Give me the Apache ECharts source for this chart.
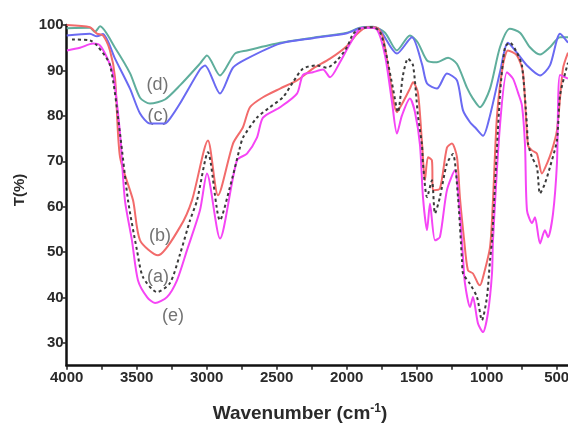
<!DOCTYPE html>
<html>
<head>
<meta charset="utf-8">
<script src="https://cdn.jsdelivr.net/npm/echarts@6/dist/echarts.min.js"></script>
<style>
html,body{margin:0;padding:0;background:#fff;}
#chart{width:568px;height:433px;}
</style>
</head>
<body>
<div id="chart"></div>
<script>
// Sample (a) - black dotted
const seriesA = [[3962,96.8],[3834,96.6],[3784,95.5],[3691,91.2],[3619,76],[3562,61.4],[3498,50.4],[3455,44.5],[3355,41.2],[3262,43.2],[3191,49.5],[3119,57],[3069,61.4],[2991,72],[2905,57],[2834,64.3],[2762,73.1],[2741,75.2],[2641,79.6],[2548,81.9],[2455,84.1],[2384,87.4],[2312,90.4],[2212,91.1],[2141,90.6],[2069,92.2],[1998,95.1],[1955,98],[1905,99.2],[1812,99.5],[1762,98.5],[1726,94.8],[1669,86],[1634,80.8],[1598,88.9],[1562,92.6],[1526,91.1],[1491,80.1],[1462,73.5],[1455,69.5],[1426,62.1],[1391,65.8],[1369,58.5],[1334,62.1],[1284,69.5],[1241,71.6],[1205,62.1],[1176,48.2],[1169,45.3],[1119,43],[1069,40.1],[1034,35],[998,40.1],[976,48.2],[962,52.6],[905,84.5],[869,95.1],[834,96.1],[784,93.9],[748,91.1],[712,77.9],[705,74],[676,70.9],[641,68.7],[619,62.9],[584,65.1],[548,68.7],[498,74.6],[476,84.5],[419,91.7]];
// Sample (b) - red
const seriesB = [[4000,100],[3834,99.5],[3784,98.1],[3741,97.7],[3691,94.4],[3655,88.5],[3619,70.9],[3526,61.4],[3476,52.6],[3348,49.3],[3191,55.5],[3105,61.4],[2991,74.6],[2919,62.5],[2812,73.9],[2741,77.5],[2691,81.9],[2598,84.1],[2476,86],[2355,87.8],[2241,90.4],[2119,92.6],[1998,95.4],[1926,98],[1855,99.5],[1784,99.4],[1741,97.3],[1705,91.1],[1641,80.8],[1598,83],[1548,86],[1526,87.4],[1491,85.1],[1462,74.1],[1441,65.8],[1419,70.9],[1391,70.2],[1384,63.6],[1334,64],[1284,73],[1248,73.9],[1212,70.9],[1191,62],[1162,53],[1134,46],[1098,45.3],[1062,43.1],[1048,42.7],[1026,44.5],[976,51.1],[955,61.4],[926,80.1],[884,91.1],[848,94.4],[784,93.3],[741,89.6],[705,73.5],[676,72.4],[641,71.7],[605,67.3],[569,69.5],[534,72.4],[498,76.8],[455,90.4],[419,93.9]];
// Sample (c) - blue
const seriesC = [[4000,97.7],[3834,98.1],[3784,97.5],[3741,98],[3655,92.6],[3548,86],[3476,80.5],[3405,78.3],[3298,78.3],[3262,79.4],[3191,82.7],[3048,90.2],[3012,91.1],[2905,84.9],[2812,90.6],[2712,92.6],[2476,95.9],[2241,97.1],[1998,98.2],[1905,99.3],[1812,99.5],[1762,98.9],[1641,93.7],[1534,97.3],[1462,91.4],[1426,87.1],[1355,86],[1284,89.3],[1212,87.8],[1169,81.2],[1119,78.6],[1084,77.5],[1026,75.6],[976,80.1],[905,89.6],[848,96.1],[784,93.9],[712,91.1],[619,88.9],[548,91.1],[476,98.1],[419,96.1]];
// Sample (d) - teal
const seriesD = [[4000,99.3],[3834,99.4],[3798,98.5],[3762,99.7],[3655,95],[3548,89.4],[3476,84],[3405,82.7],[3298,83.6],[3191,86.7],[3048,91.5],[2998,93.3],[2905,88.9],[2798,93.7],[2712,94.4],[2476,96.1],[2241,97.2],[1998,98.3],[1905,99.4],[1812,99.6],[1726,98.3],[1641,94.4],[1548,97.7],[1491,96.1],[1426,92.2],[1355,91.8],[1276,92.8],[1212,91.4],[1141,86.2],[1098,83.8],[1048,81.9],[976,86],[905,95.1],[834,99.2],[762,98.3],[691,95.1],[619,93.5],[548,95.1],[476,97.3],[419,97.3]];
// Sample (e) - magenta
const seriesE = [[3998,94.4],[3905,95],[3812,95.9],[3762,95.5],[3712,92.8],[3669,89.3],[3619,76.1],[3584,61.4],[3534,52.6],[3491,43.8],[3426,40.1],[3369,38.8],[3284,40.1],[3212,43.8],[3141,50.4],[3048,59.2],[2998,67.3],[2905,53],[2784,70.2],[2712,71.7],[2641,75.2],[2598,79.6],[2476,81.9],[2355,84.9],[2312,89],[2241,89.6],[2169,90.2],[2119,88.5],[2048,91.8],[1976,95.9],[1905,99.2],[1855,99.4],[1784,99],[1726,93.3],[1676,83],[1641,76.1],[1605,80.1],[1548,83.8],[1512,80.8],[1476,73.5],[1455,62.1],[1426,54.8],[1405,60.7],[1369,52.6],[1334,53.3],[1284,63.6],[1227,68],[1191,58.5],[1169,48.9],[1155,43.1],[1119,37.9],[1098,40.1],[1062,34.3],[1026,32.4],[991,36.6],[962,45.3],[955,52.6],[905,77.9],[855,89.6],[812,88.2],[776,85.1],[748,82.3],[726,73.5],[712,59.2],[676,56.4],[655,57.7],[619,51.9],[584,54.8],[562,53.3],[526,58.5],[498,69.5],[476,89],[419,88.2]];

// Curve labels
const labelTexts = ['(d)','(c)','(b)','(a)','(e)'];
const labelWn = [3352,3348,3334,3348,3241];
const labelT = [86.7,79.9,53.5,44.5,35.9];

// Ticks
const xLabelValues = [500,1000,1500,2000,2500,3000,3500,4000];
const xTickValues = [500,750,1000,1250,1500,1750,2000,2250,2500,2750,3000,3250,3500,3750,4000];
const yValues = [30,40,50,60,70,80,90,100];

const chart = echarts.init(document.getElementById('chart'), null, {renderer:'canvas'});
const lineSeries = (data, color, type) => ({
  type:'line', data, showSymbol:false, smooth:0.25, silent:true,
  lineStyle:{color, width:2, type: type || 'solid'}, z: type ? 5 : 3
});
chart.setOption({
  animation:false,
  backgroundColor:'#fff',
  grid:{left:66.7, right:0, top:25, bottom:67.3, containLabel:false, outerBoundsMode:'none'},
  xAxis:{
    type:'value', inverse:true, min:419, max:4000,
    axisLine:{show:true, lineStyle:{color:'#111', width:2.5}},
    axisTick:{show:true, customValues:xTickValues, length:4, inside:false, lineStyle:{color:'#222', width:1.5}},
    axisLabel:{customValues:xLabelValues, formatter:v=>String(v), hideOverlap:false, color:'#2a2a2a', fontFamily:'Liberation Sans, Arial', fontWeight:'bold', fontSize:15, margin:5},
    splitLine:{show:false}
  },
  yAxis:{
    type:'value', min:25, max:100,
    axisLine:{show:true, lineStyle:{color:'#111', width:2.5}},
    axisTick:{show:true, customValues:yValues, length:4, lineStyle:{color:'#222', width:1.5}},
    axisLabel:{customValues:yValues, formatter:v=>String(v), color:'#2a2a2a', fontFamily:'Liberation Sans, Arial', fontWeight:'bold', fontSize:15, margin:3},
    splitLine:{show:false}
  },
  series:[
    lineSeries(seriesD, '#5fae9c'),
    lineSeries(seriesC, '#6a6af2'),
    lineSeries(seriesB, '#f26b6b'),
    lineSeries(seriesE, '#f545f5'),
    lineSeries(seriesA, '#3a3a3a', [3,3]),
    {
      type:'scatter', symbolSize:0, silent:true,
      data: labelTexts.map((t,i)=>({value:[labelWn[i], labelT[i]], name:t})),
      label:{show:true, position:'inside', formatter:p=>p.name, color:'#505050', fontSize:18, fontFamily:'Liberation Sans, Arial'}
    }
  ],
  graphic:[
    {type:'text', x:20, y:190, rotation:Math.PI/2, style:{text:'T(%)', fill:'#2a2a2a', font:'bold 15px "Liberation Sans", Arial', align:'center', verticalAlign:'middle'}},
    {type:'text', x:300, y:414, style:{
      text:'Wavenumber (cm{sup|-1})',
      rich:{sup:{font:'bold 12px "Liberation Sans", Arial', fill:'#2a2a2a', verticalAlign:'bottom', padding:[0,0,10,0]}},
      fill:'#2a2a2a', font:'bold 19px "Liberation Sans", Arial', align:'center', verticalAlign:'middle'}}
  ]
});
</script>
</body>
</html>
